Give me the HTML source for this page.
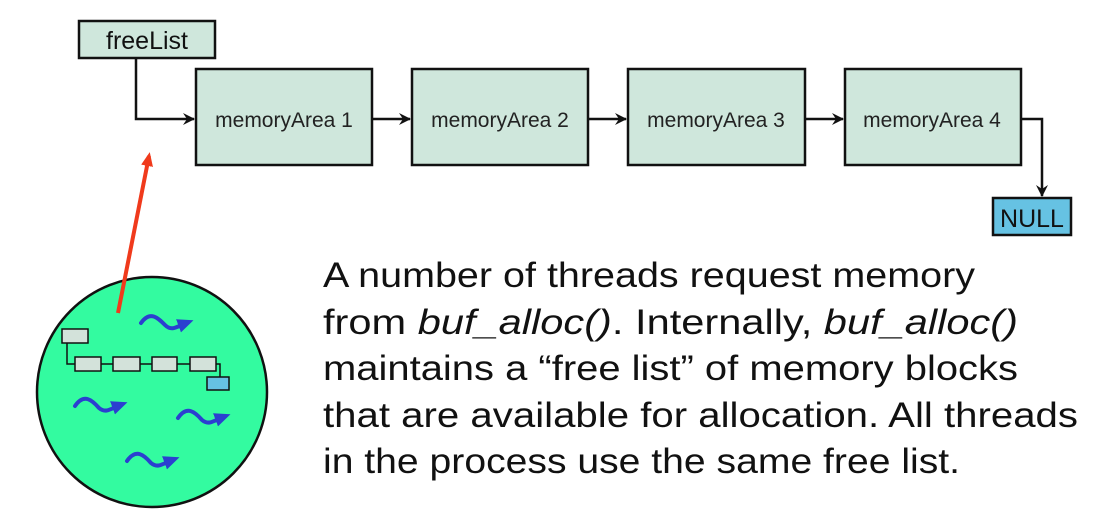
<!DOCTYPE html>
<html><head><meta charset="utf-8"><style>
html,body{margin:0;padding:0;background:#fff;}
svg{display:block;}
text{font-family:"Liberation Sans",sans-serif;}
</style></head><body>
<svg width="1098" height="520" viewBox="0 0 1098 520" xmlns="http://www.w3.org/2000/svg">
<defs>
<marker id="ah" markerWidth="12" markerHeight="12" refX="11" refY="6" orient="auto" markerUnits="userSpaceOnUse"><path d="M0,0 L12,6 L0,12 L4,6 Z" fill="#111"/></marker>
<marker id="bh" markerWidth="16" markerHeight="14" refX="8" refY="7" orient="auto" markerUnits="userSpaceOnUse"><path d="M0,0 L16,7 L0,14 Z" fill="#2b3fd0"/></marker>
<marker id="rh" markerWidth="14" markerHeight="12" refX="10" refY="6" orient="auto" markerUnits="userSpaceOnUse"><path d="M0,0 L14,6 L0,12 Z" fill="#f03a1c"/></marker>
</defs>
<rect x="79" y="21" width="136" height="37" fill="#cfe7dc" stroke="#111" stroke-width="2.5"/>
<text x="147" y="49" font-size="25" text-anchor="middle" fill="#111">freeList</text>
<path d="M136,58 V119 H194" fill="none" stroke="#111" stroke-width="2.5" marker-end="url(#ah)"/>
<g fill="#cfe7dc" stroke="#111" stroke-width="2.5">
<rect x="196" y="69" width="176" height="96"/>
<rect x="412" y="69" width="176" height="96"/>
<rect x="628" y="69" width="177" height="96"/>
<rect x="845" y="69" width="176" height="96"/>
</g>
<g font-size="21" fill="#222" text-anchor="middle">
<text x="284" y="127">memoryArea 1</text>
<text x="500" y="127">memoryArea 2</text>
<text x="716" y="127">memoryArea 3</text>
<text x="932" y="127">memoryArea 4</text>
</g>
<g stroke="#111" stroke-width="2.5" fill="none">
<path d="M372,119 H410" marker-end="url(#ah)"/>
<path d="M588,119 H626" marker-end="url(#ah)"/>
<path d="M805,119 H843" marker-end="url(#ah)"/>
<path d="M1021,119 H1042 V196" marker-end="url(#ah)"/>
</g>
<rect x="993" y="198" width="78" height="37" fill="#66c2e3" stroke="#111" stroke-width="2.5"/>
<text x="1032" y="227" font-size="25" text-anchor="middle" fill="#111">NULL</text>
<circle cx="152" cy="392" r="115" fill="#33fba0" stroke="#111" stroke-width="2.5"/>
<line x1="118" y1="313" x2="149" y2="156" stroke="#f03a1c" stroke-width="4" marker-end="url(#rh)"/>
<g fill="#d3e2da" stroke="#111" stroke-width="1.5">
<rect x="62" y="329" width="26" height="14"/>
<rect x="75" y="357" width="26" height="14"/>
<rect x="113" y="357" width="27" height="14"/>
<rect x="152" y="357" width="25" height="14"/>
<rect x="190" y="357" width="26" height="14"/>
</g>
<rect x="207" y="377" width="22" height="13" fill="#66c2e3" stroke="#111" stroke-width="1.5"/>
<path d="M67,343 V364 H75 M101,364 H113 M140,364 H152 M177,364 H190 M216,364 H220 V377" fill="none" stroke="#111" stroke-width="1.5"/>
<g fill="none" stroke="#2b3fd0" stroke-width="4" stroke-linecap="round">
<path d="M141,323 C150,310 158,318 165,325 C172,332 178,326 186,323" marker-end="url(#bh)"/>
<path d="M75,406 C84,393 92,400 99,408 C106,414 112,408 120,405" marker-end="url(#bh)"/>
<path d="M178,418 C187,405 195,412 202,420 C209,426 215,420 223,417" marker-end="url(#bh)"/>
<path d="M127,461 C136,448 144,455 151,463 C158,469 164,463 172,460" marker-end="url(#bh)"/>
</g>
<g font-size="35" fill="#111">
<text x="323" y="287" textLength="652" lengthAdjust="spacingAndGlyphs">A number of threads request memory</text>
<text x="323" y="334" textLength="695" lengthAdjust="spacingAndGlyphs">from <tspan font-style="italic">buf_alloc()</tspan>.  Internally, <tspan font-style="italic">buf_alloc()</tspan></text>
<text x="323" y="380" textLength="695" lengthAdjust="spacingAndGlyphs">maintains a “free list” of memory blocks</text>
<text x="323" y="427" textLength="755" lengthAdjust="spacingAndGlyphs">that are available for allocation.  All threads</text>
<text x="323" y="473" textLength="637" lengthAdjust="spacingAndGlyphs">in the process use the same free list.</text>
</g>
</svg>
</body></html>
